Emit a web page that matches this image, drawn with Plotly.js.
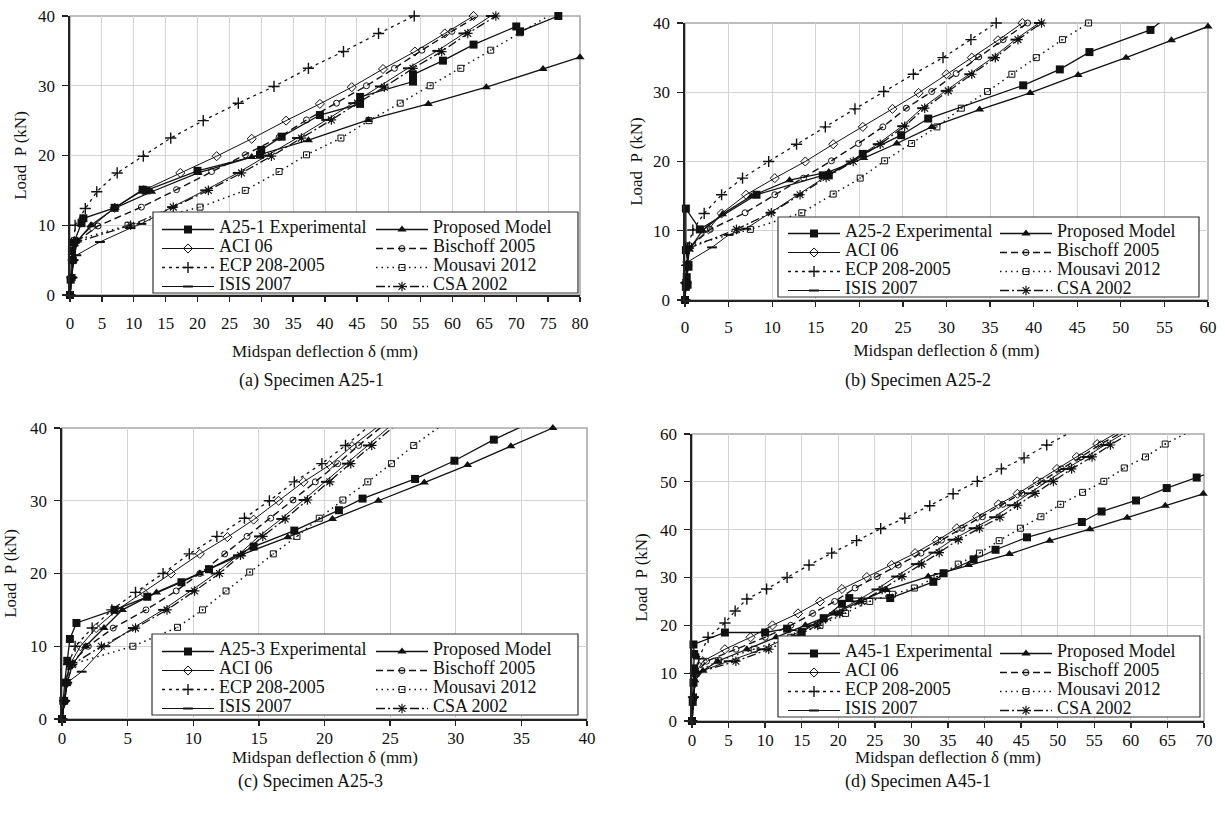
<!DOCTYPE html>
<html><head><meta charset="utf-8">
<script src="https://cdn.plot.ly/plotly-3.0.1.min.js"></script>
<style>body{margin:0;background:#fff}#chart{width:1225px;height:815px}</style>
</head><body><div id="chart"></div>
<script>
// ---------- Panel (a) Specimen A25-1 ----------
const aExpX  = [0,0.1,0.3,0.3,0.6,1.8,2.1,7.0,11.4,12.0,20.0,29.8,30.0,33.2,39.2,45.5,45.5,53.8,53.8,58.5,63.3,70.0,70.6,76.6,78.0];
const aExpY  = [0,2.2,5.0,6.3,7.5,10.3,11.0,12.5,15.1,15.0,17.8,20.1,20.8,22.7,25.8,27.4,28.4,30.6,31.6,33.6,35.9,38.5,37.8,40.0,40.4];
const aPropX = [0,0.2,0.5,1.2,3.3,7.1,12.8,20.1,28.5,37.4,46.8,56.2,65.3,74.2,80.0];
const aPropY = [0,2.5,5.0,7.8,10.0,12.5,14.8,17.5,19.8,22.2,25.1,27.4,29.8,32.4,34.1];
const aAciX  = [0,0.3,0.5,0.8,3.4,7.0,11.5,17.3,23.0,28.5,33.9,39.2,44.2,49.1,54.1,58.8,63.3];
const aAciY  = [0,2.5,5.0,7.5,9.8,12.5,15.0,17.5,19.9,22.4,25.0,27.4,29.8,32.4,34.9,37.5,40.0];
const aBisX  = [0,0.3,0.5,0.8,4.4,11.2,16.7,22.2,27.5,32.8,37.1,41.8,46.5,50.9,55.2,59.9,64.3];
const aBisY  = [0,2.5,5.0,7.5,9.9,12.6,15.1,17.7,20.1,22.6,25.1,27.5,30.0,32.5,35.1,37.8,40.2];
const aEcpX  = [0,0.3,0.5,0.6,0.8,2.4,4.2,7.4,11.5,15.8,20.9,26.4,32.0,37.4,42.9,48.4,54.0];
const aEcpY  = [0,2.5,5.0,7.5,10.0,12.4,14.8,17.5,19.9,22.5,25.0,27.5,29.9,32.5,34.9,37.5,40.0];
const aMouX  = [0,0.3,0.5,0.7,9.1,20.4,27.5,32.8,37.1,42.5,46.9,51.8,56.5,61.3,66.0,70.6,75.4];
const aMouY  = [0,2.5,5.0,7.8,10.0,12.6,15.0,17.7,20.1,22.5,25.0,27.5,30.0,32.5,35.1,37.6,40.2];
const aIsisX = [0,0.3,0.5,1.0,4.7,9.5,11.2,16.0,21.2,26.3,31.0,35.6,40.2,44.4,48.6,53.0,57.6,61.7,66.0];
const aIsisY = [0,2.5,5.0,5.7,7.6,9.6,10.2,12.6,15.0,17.5,20.0,22.5,25.1,27.5,29.9,32.5,35.0,37.5,40.0];
const aCsaX  = [0,0.3,0.5,0.8,9.5,16.2,21.7,26.9,31.6,36.3,41.0,45.1,49.3,53.8,58.3,62.4,66.8];
const aCsaY  = [0,2.5,5.0,7.5,10.0,12.6,15.0,17.5,19.9,22.5,25.1,27.5,29.8,32.5,34.9,37.5,40.0];

// ---------- Panel (b) Specimen A25-2 ----------
const bExpX  = [0,0.1,0.3,0.2,0.4,0.1,0.1,1.7,8.2,15.8,16.5,20.4,24.8,27.9,38.8,43.0,46.4,53.4,55.2];
const bExpY  = [0,1.9,2.2,3.3,4.8,7.2,13.2,10.2,15.2,18.0,18.0,21.1,23.8,26.2,31.0,33.3,35.8,39.0,40.8];
const bPropX = [0,0.1,0.3,0.5,2.0,4.3,7.6,12.0,16.5,20.5,24.3,28.3,33.8,39.6,45.1,50.6,55.8,60.0];
const bPropY = [0,2.5,5.0,7.3,10.0,12.4,15.0,17.3,18.5,20.5,22.6,25.0,27.5,29.9,32.5,35.0,37.5,39.5];
const bAciX  = [0,0.1,0.2,0.4,2.7,4.2,7.0,10.3,13.8,17.0,20.4,23.8,26.8,30.0,32.9,35.9,38.7];
const bAciY  = [0,2.5,5.0,7.5,10.2,12.5,15.2,17.6,20.0,22.5,25.0,27.6,29.9,32.6,35.0,37.5,40.0];
const bBisX  = [0,0.1,0.2,0.4,2.9,6.9,10.3,13.6,16.8,19.9,22.7,25.4,28.3,31.1,33.7,36.5,39.3];
const bBisY  = [0,2.5,5.0,7.5,10.2,12.6,15.2,17.6,20.1,22.6,25.0,27.7,30.1,32.7,35.1,37.6,40.0];
const bEcpX  = [0,0.1,0.2,0.3,0.9,2.2,4.2,6.6,9.6,12.8,16.1,19.5,22.8,26.2,29.6,32.8,35.7];
const bEcpY  = [0,2.5,5.0,7.5,10.1,12.5,15.2,17.6,20.0,22.5,25.0,27.6,30.1,32.6,35.0,37.6,40.0];
const bMouX  = [0,0.1,0.2,0.4,7.5,13.4,17.0,20.1,22.9,26.0,28.9,31.7,34.7,37.5,40.3,43.3,46.3];
const bMouY  = [0,2.5,5.0,7.8,10.2,12.6,15.3,17.6,20.1,22.6,25.0,27.7,30.1,32.6,35.0,37.6,40.0];
const bIsisX = [0,0.1,0.3,3.1,5.0,7.0,9.8,13.0,16.0,19.0,22.1,24.9,27.2,29.9,32.6,35.3,37.9,40.6];
const bIsisY = [0,2.5,5.5,7.6,9.4,10.3,12.6,15.2,17.7,20.0,22.5,25.1,27.7,30.2,32.6,35.0,37.6,40.0];
const bCsaX  = [0,0.1,0.2,0.5,5.9,9.9,13.2,16.2,19.3,22.4,25.2,27.5,30.2,32.9,35.6,38.2,40.9];
const bCsaY  = [0,2.5,5.0,7.5,10.2,12.6,15.2,17.7,20.0,22.5,25.1,27.7,30.2,32.6,35.0,37.6,40.0];

// ---------- Panel (c) Specimen A25-3 ----------
const cExpX  = [0,0.1,0.2,0.4,0.6,1.1,4.0,6.5,9.1,11.2,14.6,17.7,21.1,22.9,26.9,29.9,32.9,35.5];
const cExpY  = [0,2.5,5.0,8.0,11.0,13.2,15.0,16.8,18.8,20.6,23.7,25.9,28.7,30.3,33.0,35.5,38.4,40.6];
const cPropX = [0,0.2,0.4,0.8,1.8,3.2,4.6,7.2,10.5,13.7,17.2,20.6,24.1,27.6,30.9,34.2,37.4];
const cPropY = [0,2.5,5.0,7.5,10.0,12.5,15.0,17.4,20.0,22.6,25.0,27.5,30.0,32.5,34.9,37.5,40.0];
const cAciX  = [0,0.2,0.3,0.6,1.4,2.6,4.2,6.2,8.3,10.5,12.6,14.6,16.5,18.4,20.4,22.1,24.0];
const cAciY  = [0,2.5,5.0,7.5,10.0,12.5,15.0,17.4,20.0,22.7,25.0,27.4,30.0,32.6,34.9,37.5,40.1];
const cBisX  = [0,0.2,0.3,0.6,2.0,3.9,6.4,8.7,10.5,12.4,14.1,15.9,17.6,19.3,21.0,22.6,24.3];
const cBisY  = [0,2.5,5.0,7.5,10.0,12.5,15.0,17.6,20.0,22.7,25.1,27.6,30.1,32.6,35.1,37.6,40.1];
const cEcpX  = [0,0.2,0.3,0.5,1.0,2.3,3.8,5.6,7.7,9.7,11.8,13.9,15.8,17.7,19.8,21.6,23.3];
const cEcpY  = [0,2.5,5.0,7.5,10.0,12.5,15.0,17.4,20.0,22.7,25.1,27.6,30.0,32.6,35.1,37.6,40.1];
const cMouX  = [0,0.2,0.4,0.7,5.4,8.8,10.7,12.5,14.3,16.1,17.9,19.6,21.4,23.3,25.1,26.8,28.7];
const cMouY  = [0,2.5,5.0,7.5,10.0,12.6,15.0,17.6,20.2,22.7,25.1,27.6,30.1,32.6,35.1,37.6,40.1];
const cIsisX = [0,0.2,0.4,1.5,3.3,5.4,7.7,9.8,11.7,13.4,15.0,16.7,18.4,20.1,21.7,23.3,24.9];
const cIsisY = [0,2.5,5.0,6.5,10.0,12.5,15.0,17.6,20.0,22.5,25.1,27.5,30.1,32.6,35.1,37.6,40.1];
const cCsaX  = [0,0.2,0.4,0.8,3.0,5.6,8.0,10.1,12.0,13.6,15.3,17.0,18.7,20.4,22.0,23.6,25.2];
const cCsaY  = [0,2.5,5.0,7.5,10.0,12.5,15.0,17.6,20.0,22.5,25.1,27.5,30.1,32.6,35.1,37.6,40.1];

// ---------- Panel (d) Specimen A45-1 ----------
const dExpX  = [0,0.1,0.2,0.3,0.3,0.2,4.5,10.0,13.0,15.0,18.0,20.5,21.5,27.1,33.0,34.4,38.5,41.5,45.8,53.3,56.0,60.7,64.9,69.0,71.0];
const dExpY  = [0,4.0,8.0,11.0,14.0,16.0,18.5,18.5,19.3,18.6,21.5,24.5,25.7,25.7,29.1,30.9,33.8,35.8,38.4,41.6,43.8,46.1,48.7,50.9,52.0];
const dPropX = [0,0.2,0.4,1.5,3.5,7.5,11.5,15.5,19.5,23.0,26.6,32.3,37.8,43.4,48.9,54.4,59.5,64.7,69.9];
const dPropY = [0,5.0,8.5,10.5,12.5,15.0,17.5,20.0,22.5,25.0,27.4,30.2,32.6,34.9,37.7,40.1,42.5,45.0,47.5];
const dAciX  = [0,0.2,0.5,1.5,4.5,8.0,11.0,14.5,17.5,20.5,23.9,27.3,30.5,33.5,36.2,39.0,41.9,44.5,47.2,49.9,52.6,55.4,58.0];
const dAciY  = [0,5.0,10.0,12.5,15.0,17.5,20.0,22.5,25.0,27.6,30.1,32.6,35.1,37.7,40.3,42.7,45.3,47.5,50.1,52.7,55.2,57.9,60.2];
const dBisX  = [0,0.2,0.5,2.0,6.0,10.0,13.5,16.5,19.5,22.3,25.3,28.2,31.3,34.1,36.9,39.7,42.5,45.1,47.8,50.5,53.2,55.9,58.6];
const dBisY  = [0,5.0,10.0,12.5,15.0,17.5,20.0,22.5,25.0,27.8,30.2,32.6,35.1,37.8,40.3,42.7,45.3,47.6,50.1,52.7,55.2,57.9,60.2];
const dEcpX  = [0,0.2,0.4,0.9,2.2,4.5,5.9,7.5,10.2,13.0,16.0,19.1,22.5,25.8,29.1,32.5,35.7,39.0,42.3,45.4,48.5,51.6];
const dEcpY  = [0,5.0,10.0,13.0,17.5,20.5,23.0,25.5,27.6,30.0,32.6,35.1,37.7,40.2,42.4,45.0,47.5,50.1,52.7,55.0,57.7,60.2];
const dMouX  = [0,0.2,0.5,3.6,8.5,13.5,17.5,21.0,24.3,27.4,30.4,33.5,36.4,39.3,42.0,44.9,47.7,50.4,53.4,56.3,59.1,62.0,64.7,67.6];
const dMouY  = [0,5.0,10.0,12.6,15.0,17.5,20.0,22.5,25.0,26.5,27.8,30.2,32.8,35.1,37.7,40.3,42.7,45.3,47.8,50.1,52.9,55.2,57.9,60.2];
const dIsisX = [0,0.2,0.5,5.0,9.6,13.2,16.4,19.4,22.4,25.2,27.9,30.6,33.0,35.6,38.5,41.3,43.7,46.1,48.6,51.1,53.9,56.4,59.1];
const dIsisY = [0,5.0,10.0,12.5,15.0,17.5,20.0,22.5,25.0,27.5,30.2,32.8,35.2,37.9,40.3,42.6,45.1,47.6,50.1,52.7,55.2,57.7,60.2];
const dCsaX  = [0,0.2,0.5,6.0,10.5,14.0,17.2,20.2,23.2,26.0,28.7,31.4,33.8,36.4,39.3,42.1,44.5,46.9,49.4,51.9,54.7,57.2,59.9];
const dCsaY  = [0,5.0,10.0,12.5,15.0,17.5,20.0,22.5,25.0,27.5,30.2,32.8,35.2,37.9,40.3,42.6,45.1,47.6,50.1,52.7,55.2,57.7,60.2];

// ---------- labels ----------
const seriesNames = ['Experimental','Proposed Model','ACI 06','Bischoff 2005','ECP 208-2005','Mousavi 2012','ISIS 2007','CSA 2002'];
const specimens = ['A25-1','A25-2','A25-3','A45-1'];
const captions = ['(a) Specimen A25-1','(b) Specimen A25-2','(c) Specimen A25-3','(d) Specimen A45-1'];
const xTitle = 'Midspan deflection \u03b4 (mm)';
const yTitle = 'Load\u00a0 P (kN)';
const xMax = [80, 60, 40, 70];
const yMax = [40, 40, 40, 60];

const panels = [
  [[aExpX,aExpY],[aPropX,aPropY],[aAciX,aAciY],[aBisX,aBisY],[aEcpX,aEcpY],[aMouX,aMouY],[aIsisX,aIsisY],[aCsaX,aCsaY]],
  [[bExpX,bExpY],[bPropX,bPropY],[bAciX,bAciY],[bBisX,bBisY],[bEcpX,bEcpY],[bMouX,bMouY],[bIsisX,bIsisY],[bCsaX,bCsaY]],
  [[cExpX,cExpY],[cPropX,cPropY],[cAciX,cAciY],[cBisX,cBisY],[cEcpX,cEcpY],[cMouX,cMouY],[cIsisX,cIsisY],[cCsaX,cCsaY]],
  [[dExpX,dExpY],[dPropX,dPropY],[dAciX,dAciY],[dBisX,dBisY],[dEcpX,dEcpY],[dMouX,dMouY],[dIsisX,dIsisY],[dCsaX,dCsaY]]
];

// ---------- styles ----------
const FONT = 'Liberation Serif, "Times New Roman", serif';
const INK = '#111';
const W = 1225, H = 815;
const px = v => v / W, py = v => 1 - v / H;

const styles = [
  {dash:'solid',          lw:1.3, sym:'square',          ms:8, mlw:0},
  {dash:'solid',          lw:1.3, sym:'triangle-up',     ms:8, mlw:0},
  {dash:'solid',          lw:1.0, sym:'diamond-open',    ms:7, mlw:1},
  {dash:'7px,4px',        lw:1.4, sym:'circle-open',     ms:6, mlw:1},
  {dash:'3px,4px',        lw:1.3, sym:'cross-thin-open', ms:8, mlw:1.4},
  {dash:'1.5px,4px',      lw:1.5, sym:'square-open-dot', ms:6, mlw:1},
  {dash:'solid',          lw:1.0, sym:'line-ew-open',    ms:7, mlw:2},
  {dash:'9px,3px,2px,3px',lw:1.3, sym:'asterisk-open',   ms:8, mlw:1.2}
];
const column = [0,1,0,1,0,1,0,1]; // legend column of each series

// geometry (pixels) of each panel
const geo = [
  {x0:70,  x1:580,  y0:16,  y1:295, lg:{bx0:153,bx1:578, by0:212,by1:293, c1:157, c2:371, top:215}, xsl:7,  xt:null, yts:7, cap:[311,380]},
  {x0:685, x1:1208, y0:23,  y1:300, lg:{bx0:778,bx1:1199,by0:217,by1:297, c1:783, c2:995, top:219}, xsl:6,  xt:null, yts:6, cap:[918,380]},
  {x0:62,  x1:587,  y0:428, y1:719, lg:{bx0:152,bx1:578, by0:634,by1:715, c1:157, c2:371, top:637}, xsl:-2, xt:757,  yts:9, cap:[310,781]},
  {x0:692, x1:1204, y0:434, y1:721, lg:{bx0:778,bx1:1200,by0:636,by1:717, c1:783, c2:995, top:639}, xsl:-2, xt:757,  yts:8, cap:[918,781]}
];
const xTitleStandoff = [13, 8];

const traces = [];
const layout = {
  width: W, height: H,
  margin: {l:0, r:0, t:0, b:0},
  paper_bgcolor: '#fff', plot_bgcolor: '#fff',
  font: {family: FONT, color: INK, size: 17},
  shapes: [], annotations: []
};

panels.forEach((series, p) => {
  const g = geo[p];
  const xa = p === 0 ? 'x' : 'x' + (p + 1);
  const ya = p === 0 ? 'y' : 'y' + (p + 1);
  const lgA = 'legend' + (p === 0 ? '' : 2 * p + 1);
  const lgB = 'legend' + (2 * p + 2);
  series.forEach(([xs, ys], s) => {
    const st = styles[s];
    const label = s === 0 ? specimens[p] + ' ' + seriesNames[0] : seriesNames[s];
    traces.push({
      type: 'scatter', mode: 'lines+markers', x: xs, y: ys,
      xaxis: xa, yaxis: ya,
      name: '<span style="font-size:18px">' + label + '</span>',
      legend: column[s] === 0 ? lgA : lgB,
      cliponaxis: false,
      line: {color: INK, width: st.lw, dash: st.dash},
      marker: {symbol: st.sym, size: st.ms, color: INK, line: {color: INK, width: st.mlw}},
      hoverinfo: 'x+y'
    });
  });

  const axBase = {
    showgrid: true, gridcolor: '#d3d3d3', gridwidth: 1,
    showline: true, linecolor: '#222', linewidth: 1.6,
    ticks: 'outside', tickcolor: '#222', tickwidth: 1.3,
    zeroline: false, tickfont: {family: FONT, size: 17, color: INK}
  };
  const xTitleObj = g.xt === null
    ? {text: xTitle, font: {family: FONT, size: 17, color: INK}, standoff: xTitleStandoff[p]}
    : {text: ''};
  layout[xa === 'x' ? 'xaxis' : 'xaxis' + (p + 1)] = Object.assign({}, axBase, {
    domain: [px(g.x0), px(g.x1)], anchor: ya,
    range: [0, xMax[p]], dtick: 5, tick0: 0, ticklen: 5,
    ticklabelstandoff: g.xsl,
    title: xTitleObj
  });
  layout[ya === 'y' ? 'yaxis' : 'yaxis' + (p + 1)] = Object.assign({}, axBase, {
    domain: [py(g.y1), py(g.y0)], anchor: xa,
    range: [0, yMax[p]], dtick: 10, tick0: 0, ticklen: 6,
    ticklabelstandoff: 4,
    title: {text: yTitle, font: {family: FONT, size: 17, color: INK}, standoff: g.yts}
  });
  if (g.xt !== null) {
    layout.annotations.push({text: xTitle, xref:'paper', yref:'paper',
      x: px((g.x0 + g.x1) / 2), y: py(g.xt), xanchor:'center', yanchor:'middle', showarrow:false,
      font:{family: FONT, size: 17, color: INK}});
  }

  // grey frame (top / right border of plot area)
  layout.shapes.push({type:'rect', xref: xa + ' domain', yref: ya + ' domain', x0:0, x1:1, y0:0, y1:1,
    line:{color:'#a8a8a8', width:1.6}, layer:'below'});
  // legend box
  const L = g.lg;
  layout.shapes.push({type:'rect', xref:'paper', yref:'paper',
    x0: px(L.bx0), x1: px(L.bx1), y0: py(L.by1), y1: py(L.by0),
    fillcolor:'#fff', line:{color:'#333', width:1.2}, layer:'above'});
  const lgCommon = {orientation:'v', xanchor:'left', yanchor:'top', y: py(L.top),
    bgcolor:'rgba(0,0,0,0)', borderwidth:0, itemwidth:52, tracegroupgap:0,
    font:{family: FONT, size: 10, color: INK}, itemclick:false, itemdoubleclick:false};
  layout[lgA] = Object.assign({}, lgCommon, {x: px(L.c1)});
  layout[lgB] = Object.assign({}, lgCommon, {x: px(L.c2)});

  // caption
  layout.annotations.push({text: captions[p], xref:'paper', yref:'paper',
    x: px(g.cap[0]), y: py(g.cap[1]), xanchor:'center', yanchor:'middle', showarrow:false,
    font:{family: FONT, size: 18, color: INK}});
});

Plotly.newPlot('chart', traces, layout, {displayModeBar:false, staticPlot:true});
</script>
</body></html>
